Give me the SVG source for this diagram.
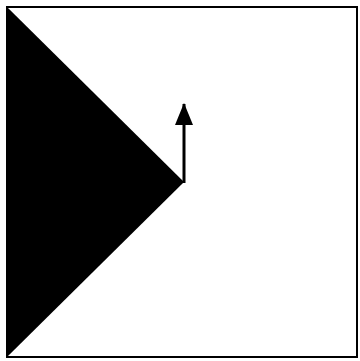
<svg xmlns="http://www.w3.org/2000/svg" width="360" height="361" viewBox="0 0 360 361">
<style>
.frame{fill:#fff;stroke:#000;stroke-width:2}
.conn{stroke:#000;stroke-width:3;fill:none}
</style>
<defs>
<marker id="ah" markerUnits="userSpaceOnUse" markerWidth="22" markerHeight="18" refX="21" refY="9" orient="auto" viewBox="0 0 22 18">
<path d="M0,0 L22,9 L0,18 Z" fill="#000"/>
</marker>
</defs>
<g id="frame"><rect class="frame" x="7" y="7" width="350" height="350"/></g>
<g id="triangle"><polygon points="7,7 184,182 7,357" fill="#000"/></g>
<g id="connectors"><line class="conn" x1="184" y1="183" x2="184" y2="104" marker-end="url(#ah)"/></g>
</svg>
